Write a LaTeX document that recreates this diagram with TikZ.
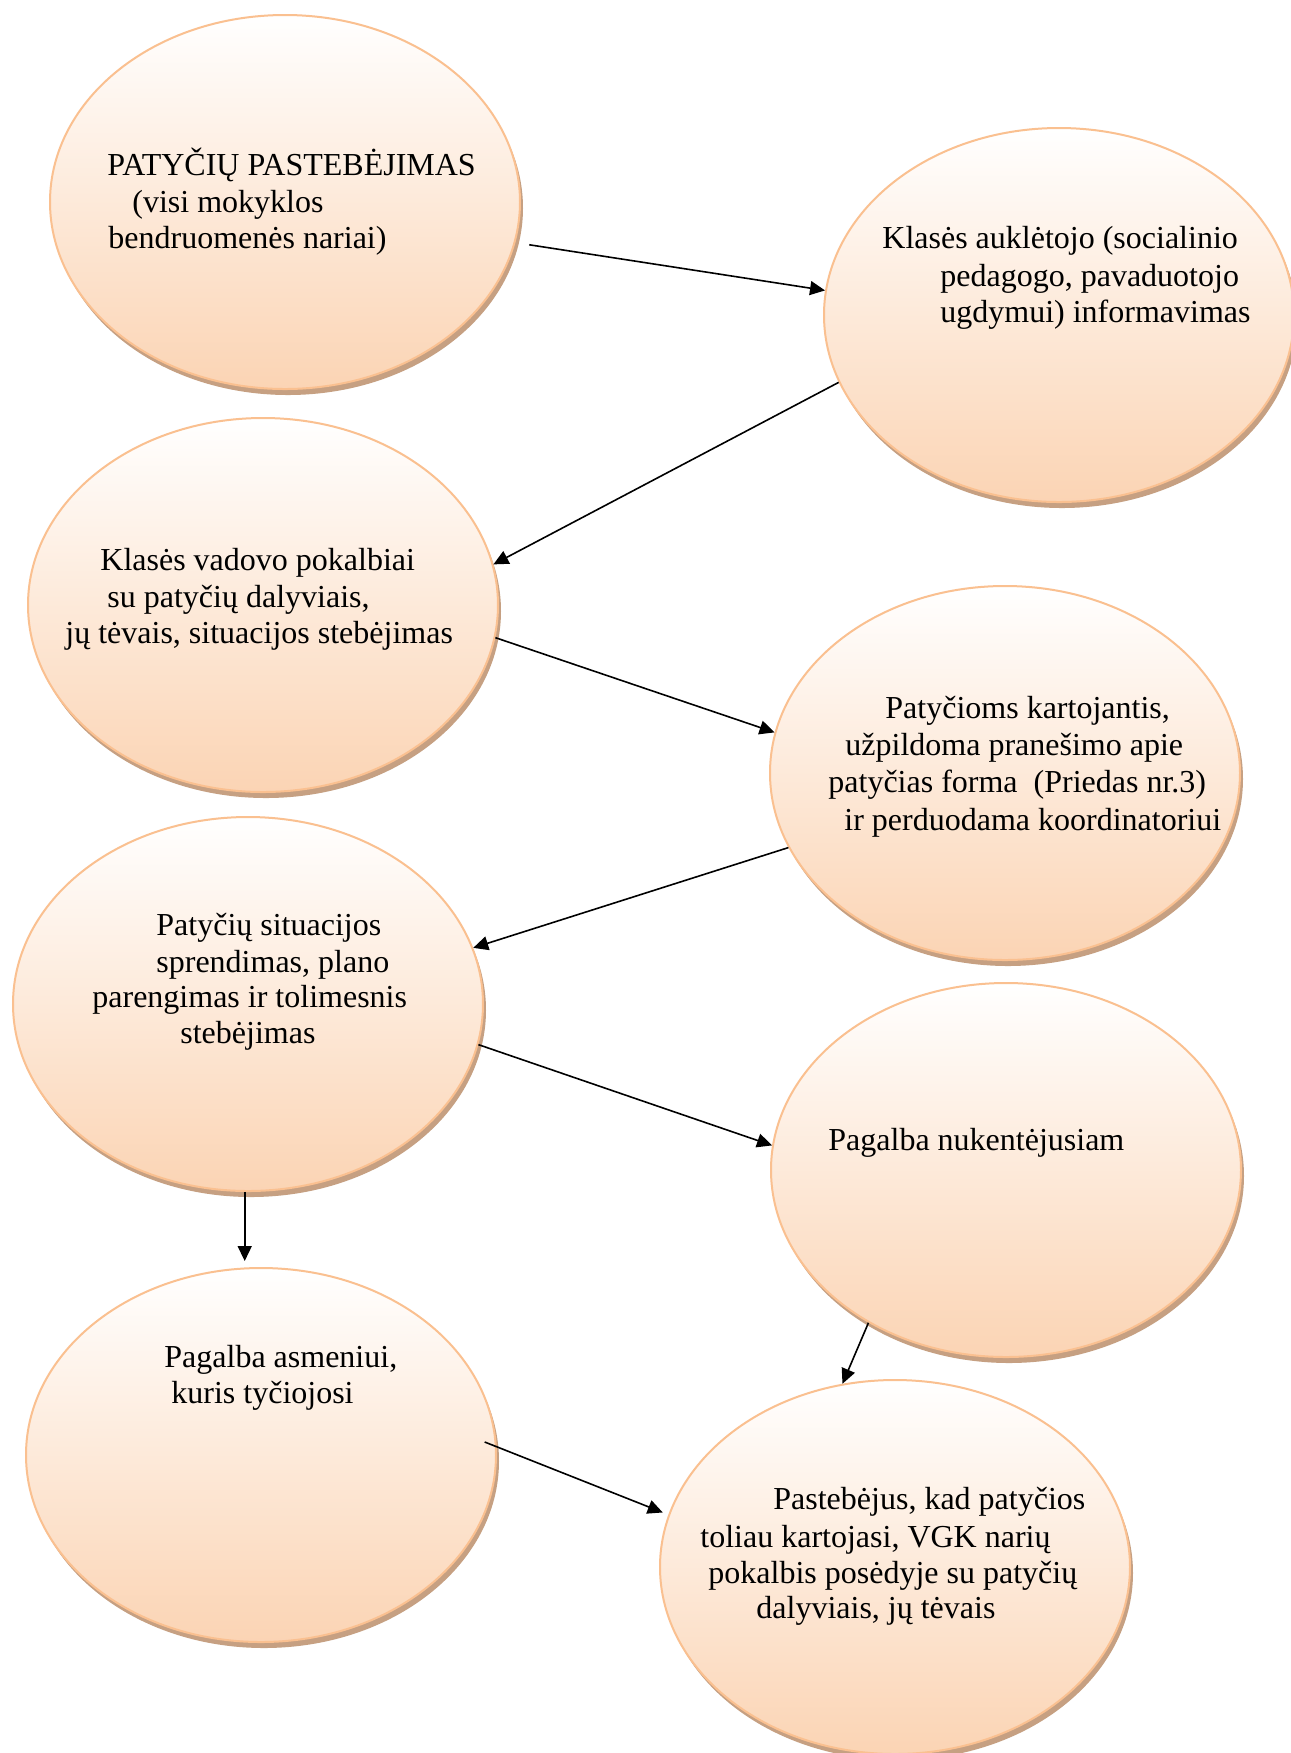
\documentclass[tikz,border=0pt]{standalone}
\usepackage{fontspec}
\setmainfont{Liberation Serif}
\usetikzlibrary{shapes.geometric,shadows,arrows.meta}
\definecolor{ovedge}{RGB}{250,192,144}
\definecolor{ovfill}{RGB}{251,212,180}
\definecolor{ovshadow}{RGB}{198,160,130}
\begin{document}
\begin{tikzpicture}[x=0.5pt,y=-0.5pt,
  oval/.style={ellipse, draw=ovedge, line width=1pt, top color=white, bottom color=ovfill,
    minimum width=235pt, minimum height=187pt, inner sep=0pt,
    drop shadow={shadow xshift=1.5pt, shadow yshift=-3pt, fill=ovshadow, opacity=1}},
  txt/.style={anchor=base west, inner sep=0pt, font=\fontsize{16pt}{18.5pt}\selectfont},
  conn/.style={-{Triangle[length=7.5pt,width=7pt]}, line width=0.8pt, black}]
\useasboundingbox (0,0) rectangle (1291,1753);
\fill[white] (0,0) rectangle (1291,1753);

\node[oval] (e1) at (285,202) {};
\node[oval] (e2) at (1059,315) {};
\node[oval] (e3) at (263,605) {};
\node[oval] (e4) at (1005,773) {};
\node[oval] (e5) at (248,1004) {};
\node[oval] (e6) at (1006,1170) {};
\node[oval] (e7) at (261,1455) {};
\node[oval] (e8) at (895,1567) {};

\node[txt] (t1a) at (107,175) {PATYČIŲ PASTEBĖJIMAS};
\node[txt] (t1b) at (132,212) {(visi mokyklos};
\node[txt] (t1c) at (108,248) {bendruomenės nariai)};

\node[txt] (t2a) at (882,248) {Klasės auklėtojo (socialinio};
\node[txt] (t2b) at (940,286) {pedagogo, pavaduotojo};
\node[txt] (t2c) at (940,322) {ugdymui) informavimas};

\node[txt] (t3a) at (100,570) {Klasės vadovo pokalbiai};
\node[txt] (t3b) at (107,607) {su patyčių dalyviais,};
\node[txt] (t3c) at (65,643) {jų tėvais, situacijos stebėjimas};

\node[txt] (t4a) at (885,718) {Patyčioms kartojantis,};
\node[txt] (t4b) at (845,755) {užpildoma pranešimo apie};
\node[txt] (t4c) at (828,792) {patyčias forma\ \ (Priedas nr.3)};
\node[txt] (t4d) at (844,830) {ir perduodama koordinatoriui};

\node[txt] (t5a) at (156,935) {Patyčių situacijos};
\node[txt] (t5b) at (156,972) {sprendimas, plano};
\node[txt] (t5c) at (92,1007) {parengimas ir tolimesnis};
\node[txt] (t5d) at (180,1043) {stebėjimas};

\node[txt] (t6a) at (828,1150) {Pagalba nukentėjusiam};

\node[txt] (t7a) at (164,1367) {Pagalba asmeniui,};
\node[txt] (t7b) at (171,1403) {kuris tyčiojosi};

\node[txt] (t8a) at (773,1509) {Pastebėjus, kad patyčios};
\node[txt] (t8b) at (700,1547) {toliau kartojasi, VGK narių};
\node[txt] (t8c) at (708,1583) {pokalbis posėdyje su patyčių};
\node[txt] (t8d) at (756,1618) {dalyviais, jų tėvais};

\draw[conn, shorten <=7pt] (e1.-10.3) -- (e2.174.7);
\draw[conn] (e2.-163.5) -- (e3.10.4);
\draw[conn] (e3.-8) -- (e4.170.1);
\draw[conn] (e4.-161.9) -- (e5.14.3);
\draw[conn] (e5.-10.3) -- (e6.174.7);
\draw[conn, shorten >=3pt] (e5.-91.5) -- (e5.-91.5 |- e7.north);
\draw[conn] (e6.-132.4) -- (e8.106);
\draw[conn, shorten <=-6.5pt, shorten >=3pt] (e7.2) -- (e8.167.9);
\end{tikzpicture}
\end{document}
